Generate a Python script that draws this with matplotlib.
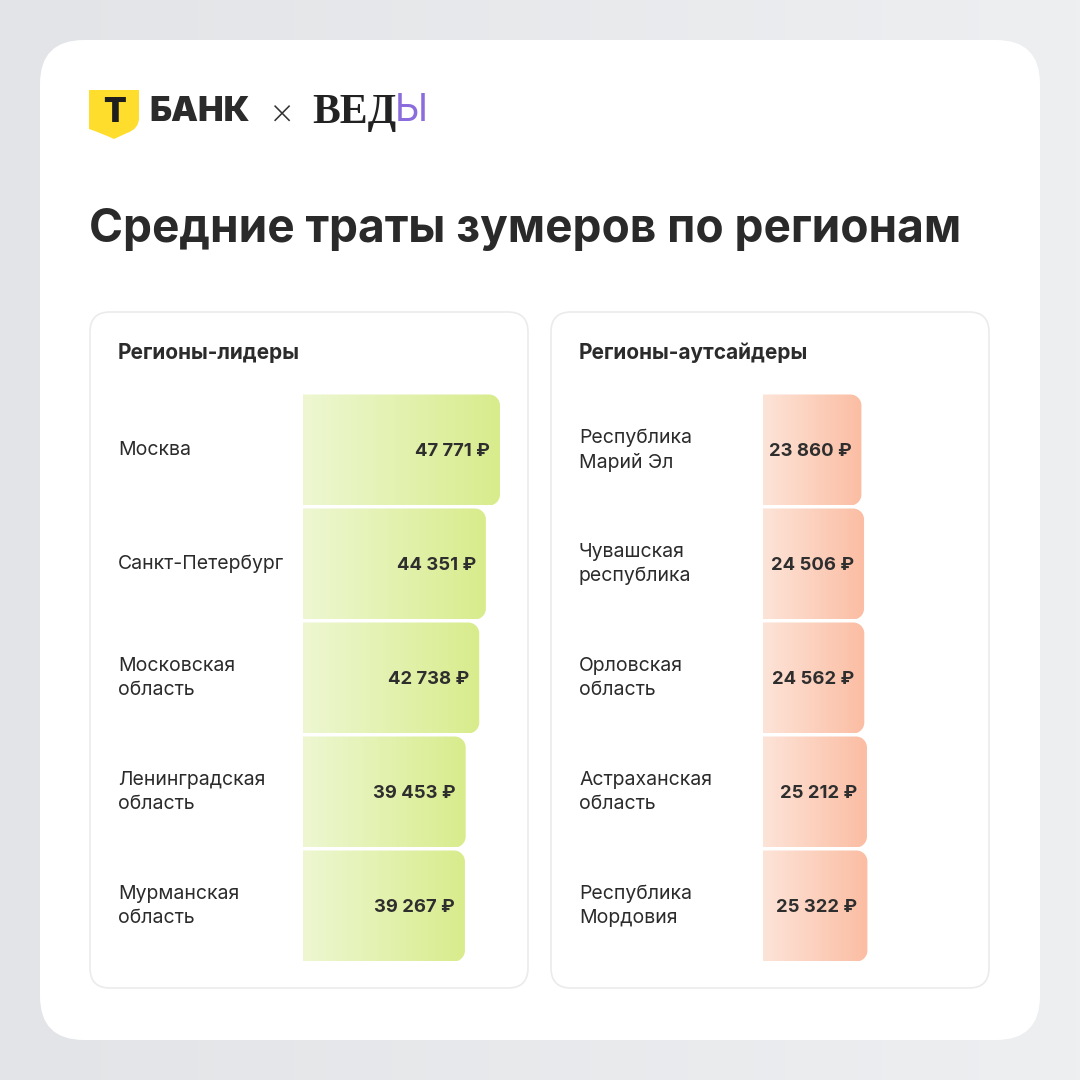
import numpy as np
import matplotlib
matplotlib.use("Agg")
import matplotlib.pyplot as plt
from matplotlib.patches import FancyBboxPatch, PathPatch
from matplotlib.path import Path
from matplotlib.colors import LinearSegmentedColormap

plt.rcParams['font.family'] = ['Inter', 'DejaVu Sans']

# ---------------- data ----------------
title = "Средние траты зумеров по регионам"
leaders_title = "Регионы-лидеры"
outsiders_title = "Регионы-аутсайдеры"
leaders = ["Москва", "Санкт-Петербург", "Московская\nобласть",
           "Ленинградская\nобласть", "Мурманская\nобласть"]
leader_vals = [47771, 44351, 42738, 39453, 39267]
outsiders = ["Республика\nМарий Эл", "Чувашская\nреспублика", "Орловская\nобласть",
             "Астраханская\nобласть", "Республика\nМордовия"]
outsider_vals = [23860, 24506, 24562, 25212, 25322]

W = H = 1080
fig = plt.figure(figsize=(10.8, 10.8), dpi=100)
PT = 72 / 100  # points per pixel


def fx(x):
    return x / W


def fy(y):
    return 1 - y / H


# base axes in pixel coordinates
base = fig.add_axes([0, 0, 1, 1])
base.set_xlim(0, W)
base.set_ylim(H, 0)
base.axis('off')
fig.patch.set_facecolor('#e7e8ea')

# background gentle gradient
bg = np.linspace(0, 1, 256).reshape(1, -1)
bgcmap = LinearSegmentedColormap.from_list('bg', ['#e3e4e7', '#eeeff1'])
base.imshow(bg, cmap=bgcmap, extent=(0, W, H, 0), aspect='auto', zorder=0)

# white card
base.add_patch(FancyBboxPatch((40, 40), 1000, 1000, boxstyle="round,pad=0,rounding_size=44",
                              fc='white', ec='none', zorder=1))

# panels
for x0 in (90, 551):
    base.add_patch(FancyBboxPatch((x0, 312), 438, 676, boxstyle="round,pad=0,rounding_size=20",
                                  fc='white', ec='#ebebeb', lw=1.2, zorder=2))

# ---- logo ----
shield = Path([(89, 90), (139, 90), (139, 118), (139, 129), (127, 133), (114, 139),
               (101, 133), (89, 129), (89, 118), (89, 90)],
              [Path.MOVETO, Path.LINETO, Path.LINETO, Path.CURVE3, Path.CURVE3, Path.LINETO,
               Path.CURVE3, Path.CURVE3, Path.LINETO, Path.CLOSEPOLY])
base.add_patch(PathPatch(shield, fc='#ffdd2d', ec='none', zorder=3))
base.text(114, 113, "Т", ha='center', va='center', fontsize=24, fontweight='black',
          color='#1e1e1e', zorder=4)
base.text(149, 112, "БАНК", ha='left', va='center', fontsize=24.5, fontweight='black',
          color='#2b2b2b', zorder=4)
base.text(282, 115, "×", ha='center', va='center', fontsize=27, fontweight='light',
          color='#333333', zorder=4)
base.text(312, 113, "ВЕД", ha='left', va='center', fontsize=30, fontweight='bold',
          family=['Liberation Serif', 'DejaVu Serif'], color='#222222', zorder=4)
base.text(395, 111, "Ы", ha='left', va='center', fontsize=27, fontweight='normal',
          color='#8a6cdc', zorder=4)

# ---- title ----
base.text(89, 230, title, ha='left', va='center', fontsize=33.1, fontweight='bold',
          color='#2a2a2a', zorder=4)

# panel titles
base.text(118, 353, leaders_title, ha='left', va='center', fontsize=15, fontweight='bold',
          color='#2b2b2b', zorder=4)
base.text(579, 353, outsiders_title, ha='left', va='center', fontsize=15, fontweight='bold',
          color='#2b2b2b', zorder=4)

SCALE = 242.5  # value units per pixel
ROW = 114
TOP = 393
BAR_H = 111 / ROW


def draw_panel(x_start, x_label, labels, vals, c_left, c_right):
    width_px = 528 - x_start if x_start < 540 else 989 - x_start
    ax = fig.add_axes([fx(x_start), fy(TOP + 5 * ROW), fx(width_px), (5 * ROW) / H])
    ax.set_facecolor('none')
    ax.set_xlim(0, width_px * SCALE)
    ax.set_ylim(4.5, -0.5)
    ypos = np.arange(len(vals))
    bars = ax.barh(ypos, vals, height=BAR_H, color='none', edgecolor='none', zorder=2)
    cmap = LinearSegmentedColormap.from_list('g', [c_left, c_right])
    grad = np.linspace(0, 1, 256).reshape(1, -1)
    rx = 11 * SCALE
    ry = 11 / ROW
    k = 0.5523
    for b in bars:
        x0, y0 = b.get_x(), b.get_y()
        x1, y1 = x0 + b.get_width(), y0 + b.get_height()
        verts = [(x0, y0), (x1 - rx, y0),
                 (x1 - rx + k * rx, y0), (x1, y0 + ry - k * ry), (x1, y0 + ry),
                 (x1, y1 - ry),
                 (x1, y1 - ry + k * ry), (x1 - rx + k * rx, y1), (x1 - rx, y1),
                 (x0, y1), (x0, y0)]
        codes = [Path.MOVETO, Path.LINETO,
                 Path.CURVE4, Path.CURVE4, Path.CURVE4,
                 Path.LINETO,
                 Path.CURVE4, Path.CURVE4, Path.CURVE4,
                 Path.LINETO, Path.CLOSEPOLY]
        clip = PathPatch(Path(verts, codes), fc='none', ec='none', transform=ax.transData)
        ax.add_patch(clip)
        im = ax.imshow(grad, cmap=cmap, extent=(x0, x1, y1, y0), aspect='auto',
                       interpolation='bilinear', zorder=2)
        im.set_clip_path(clip)
    for y, v in zip(ypos, vals):
        txt = f"{v:,}".replace(",", " ") + " ₽"
        ax.text(v - 10 * SCALE, y, txt, ha='right', va='center_baseline', fontsize=13.3,
                fontweight='bold', color='#2e2e2e', zorder=3)
    ax.set_xlim(0, width_px * SCALE)
    ax.set_ylim(4.5, -0.5)
    ax.set_yticks(ypos)
    ax.set_yticklabels(labels, ha='left', va='center', fontsize=14, color='#2b2b2b',
                       linespacing=1.4)
    ax.tick_params(axis='y', length=0, pad=(x_start - x_label) * PT)
    ax.set_xticks([])
    for s in ax.spines.values():
        s.set_visible(False)
    return ax


draw_panel(303, 118, leaders, leader_vals, '#eef7d2', '#d8ec8c')
draw_panel(763, 579, outsiders, outsider_vals, '#fde4d8', '#fbbda3')

fig.savefig('out.png', dpi=100, facecolor=fig.get_facecolor())
